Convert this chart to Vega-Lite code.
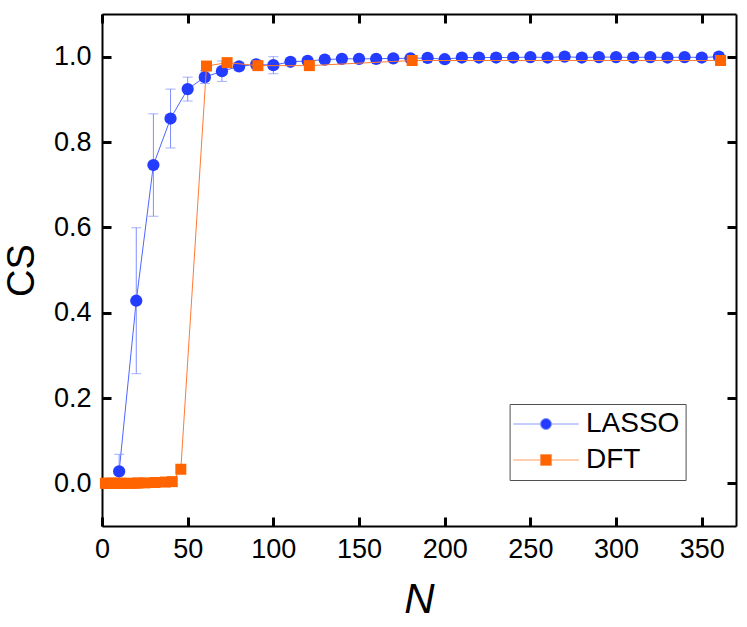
{
  "$schema": "https://vega.github.io/schema/vega-lite/v6.json",
  "width": 634,
  "height": 512,
  "autosize": {"type": "none"},
  "padding": {"left": 102, "top": 14, "right": 11, "bottom": 101},
  "background": "white",
  "config": {
    "view": {"stroke": null},
    "font": "Liberation Sans",
    "axis": {"grid": false, "domainColor": "black", "domainWidth": 2, "ticks": true, "tickColor": "#000000", "tickWidth": 3, "tickOpacity": 1},
    "legend": {
      "orient": "none",
      "legendX": 407.6,
      "legendY": 390,
      "strokeColor": "#505050",
      "strokeWidth": 1,
      "padding": 6,
      "rowPadding": 8,
      "labelFontSize": 28,
      "labelFont": "Liberation Sans",
      "labelColor": "black",
      "symbolSize": 121,
      "symbolStrokeWidth": 1,
      "symbolOffset": 16.4,
      "labelOffset": 26,
      "title": null
    }
  },
  "data": {
    "values": [
      {"series": "LASSO", "N": 10, "CS": 0.028, "err": 0.04},
      {"series": "LASSO", "N": 20, "CS": 0.428, "err": 0.171},
      {"series": "LASSO", "N": 30, "CS": 0.746, "err": 0.12},
      {"series": "LASSO", "N": 40, "CS": 0.855, "err": 0.069},
      {"series": "LASSO", "N": 50, "CS": 0.924, "err": 0.028},
      {"series": "LASSO", "N": 60, "CS": 0.952, "err": 0.015},
      {"series": "LASSO", "N": 70, "CS": 0.966, "err": 0.024},
      {"series": "LASSO", "N": 80, "CS": 0.977, "err": 0.01},
      {"series": "LASSO", "N": 90, "CS": 0.982, "err": 0.01},
      {"series": "LASSO", "N": 100, "CS": 0.98, "err": 0.02},
      {"series": "LASSO", "N": 110, "CS": 0.988, "err": 0.008},
      {"series": "LASSO", "N": 120, "CS": 0.99, "err": 0.006},
      {"series": "LASSO", "N": 130, "CS": 0.993, "err": 0.005},
      {"series": "LASSO", "N": 140, "CS": 0.995, "err": 0.005},
      {"series": "LASSO", "N": 150, "CS": 0.995, "err": 0.004},
      {"series": "LASSO", "N": 160, "CS": 0.995, "err": 0.004},
      {"series": "LASSO", "N": 170, "CS": 0.996, "err": 0.004},
      {"series": "LASSO", "N": 180, "CS": 0.996, "err": 0.004},
      {"series": "LASSO", "N": 190, "CS": 0.997, "err": 0.003},
      {"series": "LASSO", "N": 200, "CS": 0.994, "err": 0.004},
      {"series": "LASSO", "N": 210, "CS": 0.998, "err": 0.003},
      {"series": "LASSO", "N": 220, "CS": 0.998, "err": 0.003},
      {"series": "LASSO", "N": 230, "CS": 0.998, "err": 0.003},
      {"series": "LASSO", "N": 240, "CS": 0.998, "err": 0.003},
      {"series": "LASSO", "N": 250, "CS": 0.999, "err": 0.002},
      {"series": "LASSO", "N": 260, "CS": 0.998, "err": 0.002},
      {"series": "LASSO", "N": 270, "CS": 1.0, "err": 0.002},
      {"series": "LASSO", "N": 280, "CS": 0.998, "err": 0.002},
      {"series": "LASSO", "N": 290, "CS": 0.999, "err": 0.002},
      {"series": "LASSO", "N": 300, "CS": 0.999, "err": 0.002},
      {"series": "LASSO", "N": 310, "CS": 0.998, "err": 0.002},
      {"series": "LASSO", "N": 320, "CS": 0.999, "err": 0.002},
      {"series": "LASSO", "N": 330, "CS": 0.998, "err": 0.002},
      {"series": "LASSO", "N": 340, "CS": 0.999, "err": 0.002},
      {"series": "LASSO", "N": 350, "CS": 0.998, "err": 0.002},
      {"series": "LASSO", "N": 360, "CS": 1.0, "err": 0.002},
      {"series": "DFT", "N": 2, "CS": 0.0},
      {"series": "DFT", "N": 3, "CS": 0.0},
      {"series": "DFT", "N": 4, "CS": 0.0},
      {"series": "DFT", "N": 5, "CS": 0.0},
      {"series": "DFT", "N": 6, "CS": 0.0},
      {"series": "DFT", "N": 7, "CS": 0.0},
      {"series": "DFT", "N": 9, "CS": 0.0},
      {"series": "DFT", "N": 10, "CS": 0.0},
      {"series": "DFT", "N": 11, "CS": 0.0},
      {"series": "DFT", "N": 13, "CS": 0.0},
      {"series": "DFT", "N": 16, "CS": 0.0},
      {"series": "DFT", "N": 19, "CS": 0.0},
      {"series": "DFT", "N": 21, "CS": 0.001},
      {"series": "DFT", "N": 25, "CS": 0.001},
      {"series": "DFT", "N": 31, "CS": 0.002},
      {"series": "DFT", "N": 37, "CS": 0.003},
      {"series": "DFT", "N": 41, "CS": 0.004},
      {"series": "DFT", "N": 46, "CS": 0.033},
      {"series": "DFT", "N": 61, "CS": 0.978},
      {"series": "DFT", "N": 73, "CS": 0.986},
      {"series": "DFT", "N": 91, "CS": 0.979},
      {"series": "DFT", "N": 121, "CS": 0.979},
      {"series": "DFT", "N": 181, "CS": 0.991},
      {"series": "DFT", "N": 361, "CS": 0.991}
    ]
  },
  "resolve": {"axis": {"x": "independent", "y": "independent"}},
  "layer": [
    {
      "transform": [{"filter": "datum.series == 'LASSO'"}],
      "mark": {"type": "line", "color": "#4d66ff", "strokeWidth": 1},
      "encoding": {
        "x": {
          "field": "N", "type": "quantitative",
          "scale": {"domain": [0, 370], "nice": false, "zero": false},
          "axis": {
            "orient": "bottom",
            "values": [0, 50, 100, 150, 200, 250, 300, 350],
            "ticks": false, "tickSize": 0, "domain": false,
            "labelFontSize": 27, "labelColor": "black", "labelPadding": 10,
            "labelFlush": false, "labelOverlap": false,
            "title": "N", "titleFontSize": 42, "titleFontStyle": "italic",
            "titleFontWeight": "normal", "titleColor": "black", "titlePadding": 17
          }
        },
        "y": {
          "field": "CS", "type": "quantitative",
          "scale": {"domain": [-0.1, 1.1], "nice": false, "zero": false},
          "axis": {
            "orient": "left",
            "values": [0, 0.2, 0.4, 0.6, 0.8, 1.0],
            "format": ".1f",
            "ticks": false, "tickSize": 0, "domain": false,
            "labelFontSize": 27, "labelColor": "black", "labelPadding": 11,
            "labelFlush": false, "labelOverlap": false,
            "title": "CS", "titleFontSize": 38,
            "titleFontWeight": "normal", "titleColor": "black", "titlePadding": 12
          }
        }
      }
    },
    {
      "transform": [{"filter": "datum.series == 'LASSO'"}],
      "mark": {"type": "errorbar", "color": "#7f8fff", "thickness": 1, "ticks": {"size": 10, "color": "#7f8fff", "thickness": 1}},
      "encoding": {
        "x": {"field": "N", "type": "quantitative", "axis": null},
        "y": {"field": "CS", "type": "quantitative", "axis": null},
        "yError": {"field": "err"}
      }
    },
    {
      "transform": [{"filter": "datum.series == 'LASSO'"}],
      "mark": {"type": "point", "shape": "circle", "filled": true, "size": 150, "color": "#233cff", "opacity": 1},
      "encoding": {
        "x": {
          "field": "N", "type": "quantitative",
          "axis": {
            "orient": "top", "offset": -512,
            "values": [0, 50, 100, 150, 200, 250, 300, 350],
            "labels": false, "ticks": true, "tickSize": 9, "title": null
          }
        },
        "y": {
          "field": "CS", "type": "quantitative",
          "axis": {
            "orient": "right", "offset": -634,
            "values": [0, 0.2, 0.4, 0.6, 0.8, 1.0],
            "labels": false, "ticks": true, "tickSize": 9, "title": null
          }
        }
      }
    },
    {
      "transform": [{"filter": "datum.series == 'DFT'"}],
      "mark": {"type": "line", "color": "#ff7a33", "strokeWidth": 1},
      "encoding": {
        "x": {
          "field": "N", "type": "quantitative",
          "axis": {
            "orient": "bottom", "offset": -512,
            "values": [0, 50, 100, 150, 200, 250, 300, 350],
            "labels": false, "ticks": true, "tickSize": 9, "title": null
          }
        },
        "y": {
          "field": "CS", "type": "quantitative",
          "axis": {
            "orient": "left", "offset": -634,
            "values": [0, 0.2, 0.4, 0.6, 0.8, 1.0],
            "labels": false, "ticks": true, "tickSize": 9, "title": null
          }
        }
      }
    },
    {
      "transform": [{"filter": "datum.series == 'DFT'"}],
      "mark": {"type": "point", "shape": "square", "filled": true, "size": 121, "color": "#ff6400", "opacity": 1},
      "encoding": {
        "x": {"field": "N", "type": "quantitative", "axis": null},
        "y": {"field": "CS", "type": "quantitative", "axis": null}
      }
    },
    {
      "transform": [{"filter": "datum.N < 0"}],
      "mark": {"type": "point", "filled": true, "strokeWidth": 1, "opacity": 1},
      "encoding": {
        "x": {"field": "N", "type": "quantitative", "axis": null},
        "y": {"field": "CS", "type": "quantitative", "axis": null},
        "fill": {
          "field": "series", "type": "nominal",
          "scale": {"domain": ["LASSO", "DFT"], "range": ["#233cff", "#ff6400"]},
          "legend": {"title": null}
        },
        "stroke": {
          "field": "series", "type": "nominal",
          "scale": {"domain": ["LASSO", "DFT"], "range": ["#8a9aff", "#ff9a60"]},
          "legend": {"title": null}
        },
        "shape": {
          "field": "series", "type": "nominal",
          "scale": {
            "domain": ["LASSO", "DFT"],
            "range": [
              "M-5.96,0H-1M1,0H5.96M-1,0A1,1 0 1,1 1,0A1,1 0 1,1 -1,0Z",
              "M-5.96,0H-1M1,0H5.96M-1,-1H1V1H-1Z"
            ]
          },
          "legend": {"title": null}
        }
      }
    }
  ]
}
